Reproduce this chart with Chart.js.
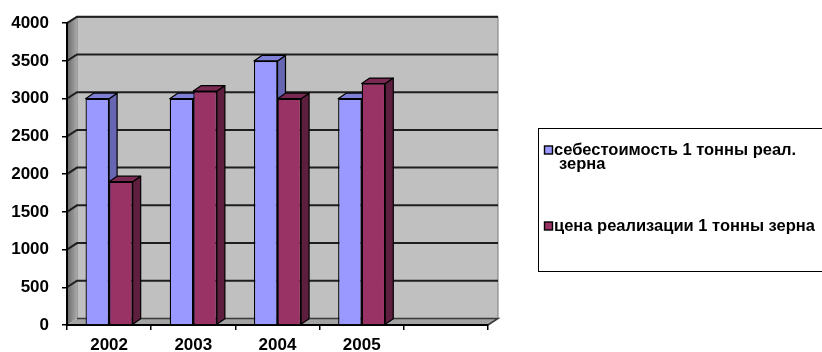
<!DOCTYPE html>
<html><head><meta charset="utf-8">
<script src="https://cdn.jsdelivr.net/npm/chart.js@4.4.1/dist/chart.umd.min.js"></script>
<style>html,body{margin:0;padding:0;background:#fff;overflow:hidden}#c{display:block}</style>
</head><body>
<canvas id="c" width="822" height="352"></canvas>
<script>
// ---- data ----
const categories = ['2002', '2003', '2004', '2005', ''];
const costValues = [3000, 3000, 3500, 3000, null];
const priceValues = [1900, 3100, 3000, 3200, null];
const seriesNames = ['себестоимость 1 тонны реал. зерна', 'цена реализации 1 тонны зерна'];
const legendLines = [['себестоимость 1 тонны реал.', 'зерна'], ['цена реализации 1 тонны зерна']];
const yTickValues = [0, 500, 1000, 1500, 2000, 2500, 3000, 3500, 4000];

// ---- style ----
const FONT = "'Liberation Sans', Arial, sans-serif";
const faceColors = ['#9999ff', '#993366'];
const sideColors = ['#6666b3', '#5e1f3f'];
const topColors = ['#7f7fd6', '#7a2a52'];
const WDX = 10, WDY = -6.5;   // wall depth
const BDX = 8, BDY = -5.5;    // bar depth

function poly(ctx, pts, fill, stroke, lw) {
  ctx.beginPath();
  ctx.moveTo(pts[0][0], pts[0][1]);
  for (let i = 1; i < pts.length; i++) ctx.lineTo(pts[i][0], pts[i][1]);
  ctx.closePath();
  if (fill) { ctx.fillStyle = fill; ctx.fill(); }
  if (stroke) { ctx.strokeStyle = stroke; ctx.lineWidth = lw || 1; ctx.stroke(); }
}

const wallsPlugin = {
  id: 'walls',
  beforeDraw(chart) {
    const ctx = chart.ctx;
    const { left, right, top, bottom } = chart.chartArea;
    const ys = chart.scales.y;
    ctx.save();
    // back wall
    poly(ctx, [[left + WDX, top + WDY], [right + WDX, top + WDY], [right + WDX, bottom + WDY], [left + WDX, bottom + WDY]], '#c0c0c0', '#7a7a7a', 1);
    ctx.strokeStyle = '#404040'; ctx.lineWidth = 1.5;
    ctx.beginPath(); ctx.moveTo(left + WDX, top + WDY); ctx.lineTo(right + WDX, top + WDY); ctx.stroke();
    // left wall
    const g = ctx.createLinearGradient(left, 0, left + WDX, 0);
    g.addColorStop(0, '#6a6a6a');
    g.addColorStop(1, '#a9a9a9');
    poly(ctx, [[left, top], [left + WDX, top + WDY], [left + WDX, bottom + WDY], [left, bottom]], g, null);
    // floor
    poly(ctx, [[left, bottom], [left + WDX, bottom + WDY], [right + WDX, bottom + WDY], [right, bottom]], '#a3a3a3', null);
    ctx.strokeStyle = '#3a3a3a'; ctx.lineWidth = 1.5;
    ctx.beginPath(); ctx.moveTo(left + WDX, bottom + WDY); ctx.lineTo(right + WDX, bottom + WDY); ctx.lineTo(right, bottom); ctx.stroke();
    // gridlines on back wall
    ctx.strokeStyle = '#1e1e1e'; ctx.lineWidth = 2;
    yTickValues.forEach(v => {
      if (v === 0) return;
      const py = ys.getPixelForValue(v);
      ctx.beginPath();
      ctx.moveTo(left, py);
      ctx.lineTo(left + WDX, py + WDY);
      ctx.lineTo(right + WDX, py + WDY);
      ctx.stroke();
    });
    ctx.restore();
  },
  beforeDatasetsDraw(chart) {
    const ctx = chart.ctx;
    ctx.save();
    ctx.lineJoin = 'round';
    const n = chart.data.labels.length;
    for (let j = 0; j < n; j++) {
      chart.data.datasets.forEach((ds, i) => {
        const el = chart.getDatasetMeta(i).data[j];
        if (!el || ds.data[j] == null) return;
        const x0 = el.x - el.width / 2, x1 = el.x + el.width / 2;
        const y = el.y, b = el.base;
        poly(ctx, [[x1, y], [x1 + BDX, y + BDY], [x1 + BDX, b + BDY], [x1, b]], sideColors[i], '#000', 1.2);
        poly(ctx, [[x0, y], [x0 + BDX, y + BDY], [x1 + BDX, y + BDY], [x1, y]], topColors[i], '#000', 1.2);
      });
    }
    ctx.restore();
  }
};

const legendPlugin = {
  id: 'boxLegend',
  afterDraw(chart) {
    const ctx = chart.ctx;
    ctx.save();
    ctx.fillStyle = '#fff';
    ctx.fillRect(538.5, 128.5, 300, 143);
    ctx.strokeStyle = '#000'; ctx.lineWidth = 1;
    ctx.strokeRect(538.5, 128.5, 300, 143);
    ctx.font = 'bold 16.5px ' + FONT;
    ctx.textBaseline = 'middle';
    const itemY = [150, 226];
    chart.data.datasets.forEach((ds, i) => {
      const yy = itemY[i];
      ctx.fillStyle = ds.backgroundColor;
      ctx.fillRect(544.5, yy - 4, 8, 8);
      ctx.strokeStyle = '#000'; ctx.lineWidth = 1.4;
      ctx.strokeRect(544.5, yy - 4, 8, 8);
      ctx.fillStyle = '#000';
      legendLines[i].forEach((line, k) => {
        ctx.fillText(line, k === 0 ? 554 : 559, yy + k * 14);
      });
    });
    ctx.restore();
  }
};

new Chart(document.getElementById('c'), {
  type: 'bar',
  data: {
    labels: categories,
    datasets: [
      { label: seriesNames[0], data: costValues, backgroundColor: faceColors[0], borderColor: '#000', borderWidth: 1.3 },
      { label: seriesNames[1], data: priceValues, backgroundColor: faceColors[1], borderColor: '#000', borderWidth: 1.3 }
    ]
  },
  options: {
    responsive: false,
    animation: false,
    events: [],
    layout: { padding: { left: 0, top: 22, right: 334, bottom: 0 } },
    datasets: { bar: { categoryPercentage: 0.56, barPercentage: 1.0 } },
    plugins: { legend: { display: false }, tooltip: { enabled: false } },
    scales: {
      x: {
        afterFit(s) { s.height = 27; },
        grid: { offset: true, drawOnChartArea: false, drawTicks: true, tickLength: 5, color: '#000', lineWidth: 1.5 },
        border: { display: true, color: '#000', width: 2 },
        ticks: { font: { family: FONT, size: 17, weight: 'bold' }, color: '#000', padding: 5, maxRotation: 0 }
      },
      y: {
        min: 0, max: 4000,
        afterFit(s) { s.width = 67; },
        grid: { drawOnChartArea: false, drawTicks: true, tickLength: 5, color: '#000', lineWidth: 1.5 },
        border: { display: true, color: '#000', width: 2 },
        ticks: { stepSize: 500, font: { family: FONT, size: 17, weight: 'bold' }, color: '#000', padding: 13,
                 callback: (v) => String(v) }
      }
    }
  },
  plugins: [wallsPlugin, legendPlugin]
});
</script>
</body></html>
